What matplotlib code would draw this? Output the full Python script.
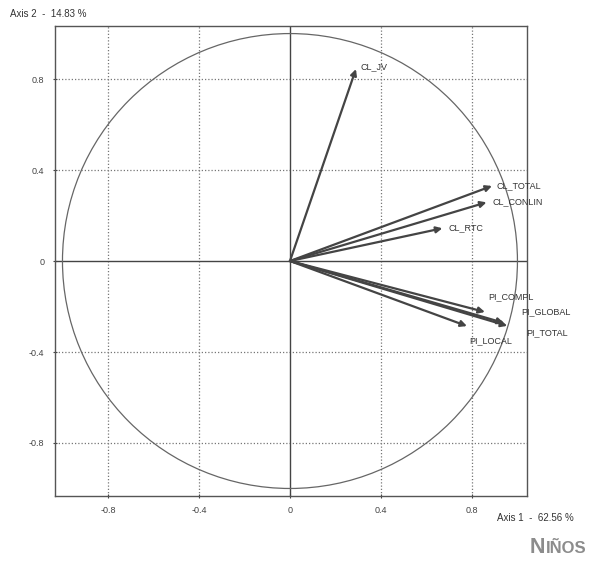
import numpy as np
from matplotlib import pyplot as plt
from matplotlib.patches import Circle

plt.rcParams['font.family'] = ['Liberation Sans', 'DejaVu Sans']

# variable coordinates on the correlation circle
names = ['CL_JV', 'CL_TOTAL', 'CL_CONLIN', 'CL_RTC',
         'PI_COMPL', 'PI_GLOBAL', 'PI_TOTAL', 'PI_LOCAL']
axis1 = [0.29, 0.888, 0.864, 0.67, 0.857, 0.955, 0.94, 0.778]
axis2 = [0.844, 0.33, 0.258, 0.144, -0.224, -0.285, -0.272, -0.286]
label_x = [0.31, 0.91, 0.89, 0.695, 0.87, 1.015, 1.04, 0.79]
label_y = [0.855, 0.33, 0.26, 0.145, -0.158, -0.224, -0.316, -0.35]

ticks = [-0.8, -0.4, 0, 0.4, 0.8]
tick_labels = ['-0.8', '-0.4', '0', '0.4', '0.8']

fig = plt.figure(figsize=(5.93, 5.64), dpi=100)
ax = fig.add_axes([0.0927, 0.1206, 0.796, 0.834])
ax.set_xlim(-1.033, 1.042)
ax.set_ylim(-1.033, 1.035)

frame_col = '#555555'
for s in ax.spines.values():
    s.set_color(frame_col)
    s.set_linewidth(1.0)

# dotted grid
for t in [-0.8, -0.4, 0.4, 0.8]:
    ax.axvline(t, color='#777777', lw=0.9, ls=(0, (1, 1.6)), zorder=1)
    ax.axhline(t, color='#777777', lw=0.9, ls=(0, (1, 1.6)), zorder=1)
ax.axvline(0, color='#444444', lw=1.0, zorder=1)
ax.axhline(0, color='#444444', lw=1.0, zorder=1)

ax.add_patch(Circle((0, 0), 1.0, fill=False, edgecolor='#666666', lw=0.9, zorder=2))

for n, x, y, lx, ly in zip(names, axis1, axis2, label_x, label_y):
    ax.annotate('', xy=(x, y), xytext=(0, 0),
                arrowprops=dict(arrowstyle='-|>', color='#444444', lw=1.6,
                                mutation_scale=9, shrinkA=0, shrinkB=0),
                zorder=3)
    ax.text(lx, ly, n, fontsize=6.5, color='#333333', ha='left', va='center', zorder=4)

ax.set_xticks(ticks)
ax.set_yticks(ticks)
ax.set_xticklabels(tick_labels)
ax.set_yticklabels(tick_labels)
ax.tick_params(axis='both', labelsize=6.5, colors='#444444', length=3, width=0.8,
               direction='inout', pad=6)

fig.text(0.017, 0.975, 'Axis 2  -  14.83 %', fontsize=7, color='#333333',
         ha='left', va='center')
fig.text(0.838, 0.082, 'Axis 1  -  62.56 %', fontsize=7, color='#333333',
         ha='left', va='center')

fig.text(0.893, 0.02, 'N', fontsize=15.5, fontweight='bold', color='#8c8c8c',
         ha='left', va='baseline')
fig.text(0.921, 0.02, 'IÑOS', fontsize=12, fontweight='bold', color='#8c8c8c',
         ha='left', va='baseline')

fig.savefig('out.png', dpi=100)
